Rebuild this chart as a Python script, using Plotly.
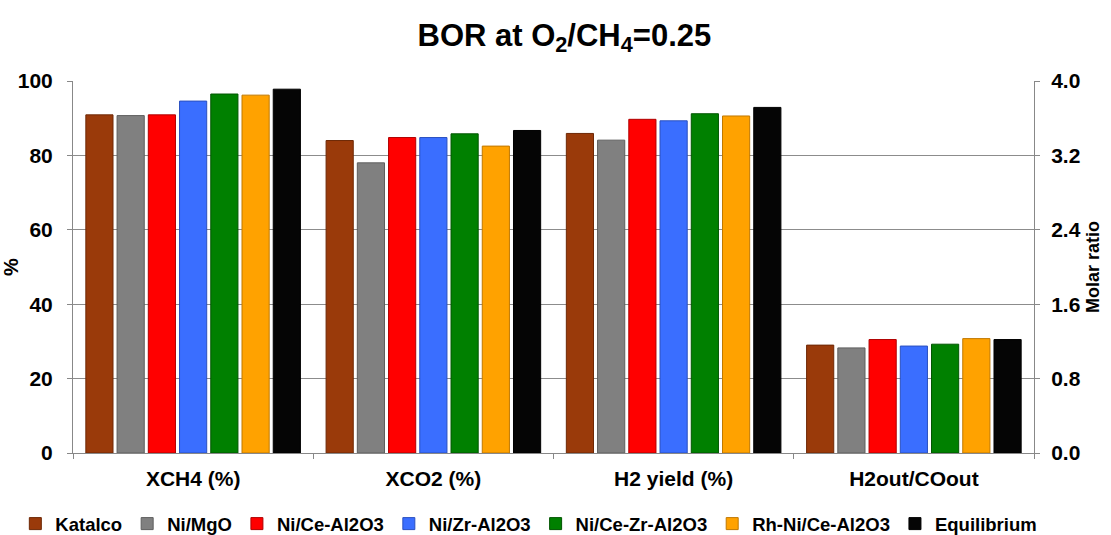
import plotly.graph_objects as go

categories = ["XCH4 (%)", "XCO2 (%)", "H2 yield (%)", "H2out/COout"]
series_names = ["Katalco", "Ni/MgO", "Ni/Ce-Al2O3", "Ni/Zr-Al2O3",
                "Ni/Ce-Zr-Al2O3", "Rh-Ni/Ce-Al2O3", "Equilibrium"]
# first three categories in %, last in molar ratio (right axis)
katalco = [90.9, 84.0, 85.9, 1.16]
ni_mgo = [90.7, 78.0, 84.1, 1.13]
ni_ce_al = [90.9, 84.8, 89.7, 1.22]
ni_zr_al = [94.6, 84.8, 89.3, 1.15]
ni_ce_zr_al = [96.5, 85.8, 91.2, 1.17]
rh_ni_ce_al = [96.2, 82.5, 90.6, 1.23]
equilibrium = [97.8, 86.7, 92.9, 1.22]
series_values = [katalco, ni_mgo, ni_ce_al, ni_zr_al, ni_ce_zr_al, rh_ni_ce_al, equilibrium]
colors = ["#9A3A0A", "#808080", "#FF0000", "#3A6EFF", "#008000", "#FFA200", "#050505"]
edge_colors = ["#6E2806", "#5E5E5E", "#B00000", "#2A50C0", "#005500", "#C07800", "#000000"]

left_ticks = [0, 20, 40, 60, 80, 100]
right_ticks = [0.0, 0.8, 1.6, 2.4, 3.2, 4.0]

FONT = "Liberation Sans, Arial, sans-serif"

fig = go.Figure()
for i, (name, vals) in enumerate(zip(series_names, series_values)):
    fig.add_trace(go.Bar(
        x=categories[:3], y=vals[:3], name=name,
        marker=dict(color=colors[i], line=dict(color=edge_colors[i], width=1)),
        offsetgroup=str(i), legendgroup=name, yaxis="y",
    ))
    fig.add_trace(go.Bar(
        x=categories[3:], y=vals[3:], name=name,
        marker=dict(color=colors[i], line=dict(color=edge_colors[i], width=1)),
        offsetgroup=str(i), legendgroup=name, yaxis="y2", showlegend=False,
    ))

fig.update_layout(
    width=1111, height=535,
    margin=dict(l=73, r=77, t=81, b=82, autoexpand=False),
    paper_bgcolor="white", plot_bgcolor="white",
    barmode="group", bargap=0.09, bargroupgap=0.13,
    font=dict(family=FONT, color="black", size=20, weight="bold"),
    title=dict(text="BOR at O<sub>2</sub>/CH<sub>4</sub>=0.25",
               x=0.508, xanchor="center", y=0.935, yanchor="middle",
               font=dict(family=FONT, size=31, weight="bold", color="black")),
    xaxis=dict(
        type="category", categoryorder="array", categoryarray=categories,
        showline=True, linecolor="#888888", linewidth=1,
        ticks="outside", tickson="boundaries", ticklen=5, tickcolor="#888888",
        tickfont=dict(size=21, weight="bold"), ticklabelstandoff=7,
    ),
    yaxis=dict(
        range=[0, 100], tickvals=left_ticks, ticktext=[str(t) for t in left_ticks],
        showgrid=True, gridcolor="#8C8C8C", gridwidth=1,
        showline=True, linecolor="#888888", linewidth=1,
        ticks="outside", ticklen=5, tickcolor="#888888",
        tickfont=dict(size=21, weight="bold"), ticklabelstandoff=10,
        title=dict(text="%", font=dict(size=20, weight="bold"), standoff=4),
        zeroline=False,
    ),
    yaxis2=dict(
        range=[0, 4], tickvals=right_ticks, ticktext=[f"{t:.1f}" for t in right_ticks],
        overlaying="y", side="right", showgrid=False,
        showline=True, linecolor="#888888", linewidth=1,
        ticks="outside", ticklen=5, tickcolor="#888888",
        tickfont=dict(size=21, weight="bold"), ticklabelstandoff=7,
        title=dict(text="Molar ratio", font=dict(size=18, weight="bold"), standoff=6),
        zeroline=False,
    ),
    legend=dict(
        orientation="h", x=-0.06, xanchor="left", y=-0.14, yanchor="top",
        font=dict(size=18.5, weight="bold"), itemwidth=30, tracegroupgap=0,
    ),
)

fig.write_html("out.html")
